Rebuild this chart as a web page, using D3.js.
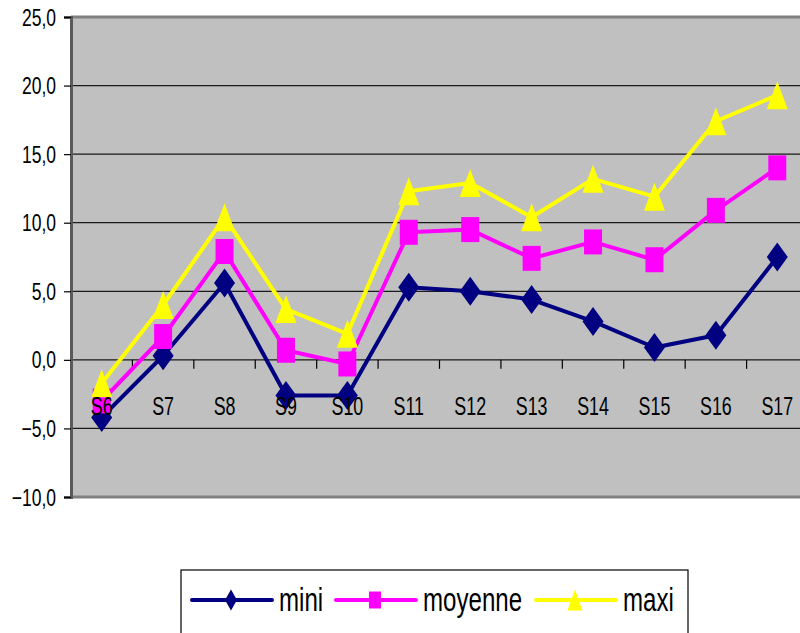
<!DOCTYPE html>
<html>
<head>
<meta charset="utf-8">
<script src="https://cdn.jsdelivr.net/npm/d3@7"></script>
<style>
  html, body { margin: 0; padding: 0; background: #fff; }
  svg { display: block; font-family: "Liberation Sans", Arial, sans-serif; }
</style>
</head>
<body>
<svg id="chart" width="800" height="633"></svg>
<script>
// Weekly temperature readings (°C)
const categories = ["S6", "S7", "S8", "S9", "S10", "S11", "S12", "S13", "S14", "S15", "S16", "S17"];
const mini    = [-4.2, 0.3, 5.6, -2.6, -2.6, 5.3, 5.0, 4.4, 2.8, 0.9, 1.8, 7.5];
const moyenne = [-3.0, 1.7, 7.9, 0.7, -0.3, 9.3, 9.5, 7.4, 8.6, 7.3, 10.9, 14.0];
const maxi    = [-1.7, 4.0, 10.4, 3.7, 1.9, 12.3, 12.9, 10.4, 13.2, 11.9, 17.4, 19.3];
const yTicks  = [-10, -5, 0, 5, 10, 15, 20, 25];
const seriesNames = ["mini", "moyenne", "maxi"];

const series = [
  { name: seriesNames[0], values: mini,    color: "#000080", shape: "diamond" },
  { name: seriesNames[1], values: moyenne, color: "#FF00FF", shape: "square" },
  { name: seriesNames[2], values: maxi,    color: "#FFFF00", shape: "triangle" }
];

const SX = 0.73; // horizontal squeeze of the text glyphs and markers

const svg = d3.select("#chart");
const plotLeft = 71, plotRight = 808, plotTop = 17, plotBottom = 497;

const x = d3.scaleBand().domain(categories).range([plotLeft, plotRight]).padding(0);
const y = d3.scaleLinear().domain([-10, 25]).range([plotBottom, plotTop]);
const cx = c => x(c) + x.bandwidth() / 2;

// Marker outlines, sized by width and height
function markerPath(shape, w, h) {
  if (shape === "diamond") return `M0,${-h/2}L${w/2},0L0,${h/2}L${-w/2},0Z`;
  if (shape === "square") return `M${-w/2},${-h/2}H${w/2}V${h/2}H${-w/2}Z`;
  return `M0,${-h/2}L${w/2},${h/2}L${-w/2},${h/2}Z`;
}
const plotMarker = { diamond: [21, 29], square: [18, 25], triangle: [21, 28] };
const legendMarker = { diamond: [12, 21], square: [12, 17], triangle: [15, 21] };

// Plot area
svg.append("rect")
  .attr("x", plotLeft).attr("y", plotTop)
  .attr("width", plotRight - plotLeft).attr("height", plotBottom - plotTop)
  .attr("fill", "#C0C0C0");

// Horizontal gridlines
svg.append("g").selectAll("line")
  .data(yTicks.filter(v => v > -10 && v < 25))
  .join("line")
  .attr("x1", plotLeft).attr("x2", plotRight)
  .attr("y1", d => y(d)).attr("y2", d => y(d))
  .attr("stroke", "#1a1a1a").attr("stroke-width", 1.2);

// Plot frame: top and bottom edges
svg.append("line").attr("x1", plotLeft).attr("x2", plotRight)
  .attr("y1", y(25)).attr("y2", y(25))
  .attr("stroke", "#808080").attr("stroke-width", 3);
svg.append("line").attr("x1", plotLeft).attr("x2", plotRight)
  .attr("y1", y(-10)).attr("y2", y(-10))
  .attr("stroke", "#808080").attr("stroke-width", 3);

// Value axis
const yAxis = svg.append("g")
  .attr("transform", `translate(${plotLeft},0)`)
  .call(d3.axisLeft(y).tickValues(yTicks).tickSize(7)
    .tickFormat(d => d3.format(".1f")(d).replace(".", ",")));
yAxis.select(".domain").attr("stroke", "#5a5a5a").attr("stroke-width", 3);
yAxis.selectAll(".tick line").attr("stroke", "#000").attr("stroke-width", 1.2);
yAxis.selectAll(".tick text")
  .attr("x", null).attr("dy", null)
  .attr("transform", `translate(-15,8) scale(${SX},1)`)
  .attr("font-size", 24).attr("fill", "#000")
  .attr("font-family", "Liberation Sans, Arial, sans-serif");

// Category tick marks on the zero line, at band boundaries
svg.append("g").selectAll("line")
  .data(categories.slice(1))
  .join("line")
  .attr("x1", d => x(d)).attr("x2", d => x(d))
  .attr("y1", y(0)).attr("y2", y(0) + 9)
  .attr("stroke", "#000").attr("stroke-width", 1.2);

// Series lines and markers
series.forEach(s => {
  const pts = categories.map((c, i) => ({ c, v: s.values[i] }));
  svg.append("path")
    .datum(pts)
    .attr("fill", "none")
    .attr("stroke", s.color)
    .attr("stroke-width", 4)
    .attr("stroke-linejoin", "round")
    .attr("d", d3.line().x(d => cx(d.c)).y(d => y(d.v)));
  const [w, h] = plotMarker[s.shape];
  svg.append("g").selectAll("path")
    .data(pts)
    .join("path")
    .attr("transform", d => `translate(${cx(d.c)},${y(d.v)})`)
    .attr("d", markerPath(s.shape, w, h))
    .attr("fill", s.color);
});

// Category labels, drawn over the zero line
const xAxis = svg.append("g")
  .attr("transform", `translate(0,${y(0)})`)
  .call(d3.axisBottom(x).tickSize(0));
xAxis.select(".domain").remove();
xAxis.selectAll(".tick text")
  .attr("y", null).attr("dy", null)
  .attr("transform", `translate(0,55) scale(0.7,1)`)
  .attr("font-size", 25.5).attr("fill", "#000")
  .attr("font-family", "Liberation Sans, Arial, sans-serif");

// Legend
const legend = svg.append("g");
legend.append("rect")
  .attr("x", 181).attr("y", 570).attr("width", 507).attr("height", 80)
  .attr("fill", "#fff").attr("stroke", "#000").attr("stroke-width", 1.2);
const legendX = [192, 336, 536];
series.forEach((s, i) => {
  const g = legend.append("g").attr("transform", `translate(${legendX[i]},600)`);
  g.append("line").attr("x1", 0).attr("x2", 80).attr("y1", 0).attr("y2", 0)
    .attr("stroke", s.color).attr("stroke-width", 4).attr("stroke-linecap", "round");
  const [w, h] = legendMarker[s.shape];
  g.append("path").attr("transform", "translate(39,0)")
    .attr("d", markerPath(s.shape, w, h)).attr("fill", s.color);
  g.append("text")
    .attr("transform", `translate(87,11) scale(${SX},1)`)
    .attr("font-size", 33).attr("fill", "#000")
    .text(s.name);
});
</script>
</body>
</html>
